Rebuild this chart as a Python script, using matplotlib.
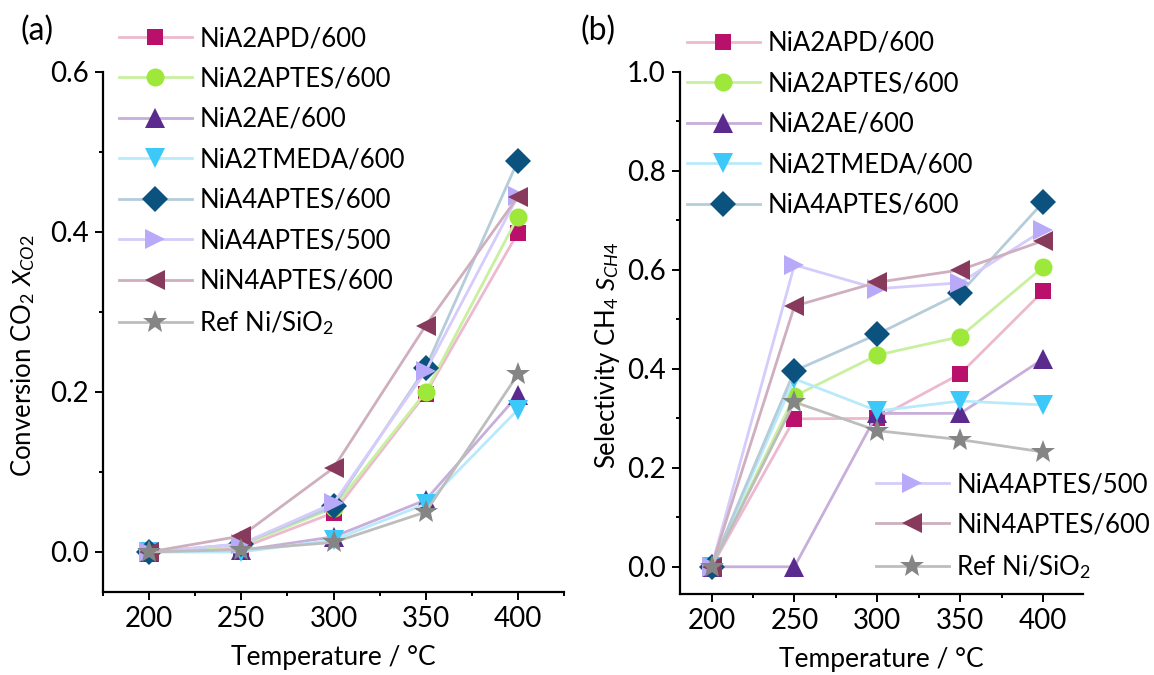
import matplotlib
matplotlib.use("Agg")
import matplotlib.pyplot as plt
from matplotlib.ticker import MultipleLocator, FormatStrFormatter

plt.rcParams['font.family'] = ['Lato', 'DejaVu Sans']
plt.rcParams['mathtext.fontset'] = 'custom'
plt.rcParams['mathtext.rm'] = 'Lato'
plt.rcParams['mathtext.it'] = 'Lato:italic'

temperature = [200, 250, 300, 350, 400]

samples = ["NiA2APD/600", "NiA2APTES/600", "NiA2AE/600", "NiA2TMEDA/600",
           "NiA4APTES/600", "NiA4APTES/500", "NiN4APTES/600", r"Ref Ni/SiO$_\mathregular{2}$"]

# CO2 conversion X_CO2
conv_apd = [0.0, 0.005, 0.049, 0.198, 0.399]
conv_a2aptes = [0.0, 0.008, 0.055, 0.200, 0.419]
conv_ae = [0.0, 0.002, 0.019, 0.065, 0.196]
conv_tmeda = [0.0, 0.000, 0.015, 0.060, 0.178]
conv_a4aptes600 = [0.0, 0.010, 0.057, 0.230, 0.489]
conv_a4aptes500 = [0.0, 0.010, 0.061, 0.226, 0.445]
conv_n4aptes = [0.0, 0.020, 0.105, 0.283, 0.444]
conv_ref = [0.0, 0.003, 0.012, 0.050, 0.222]

# CH4 selectivity S_CH4
sel_apd = [0.0, 0.299, 0.300, 0.390, 0.557]
sel_a2aptes = [0.0, 0.345, 0.428, 0.465, 0.606]
sel_ae = [0.0, 0.0, 0.310, 0.310, 0.420]
sel_tmeda = [0.0, 0.380, 0.315, 0.335, 0.327]
sel_a4aptes600 = [0.0, 0.396, 0.470, 0.553, 0.737]
sel_a4aptes500 = [0.0, 0.610, 0.562, 0.574, 0.680]
sel_n4aptes = [0.0, 0.527, 0.575, 0.600, 0.659]
sel_ref = [0.0, 0.333, 0.275, 0.257, 0.232]

conversion = [conv_apd, conv_a2aptes, conv_ae, conv_tmeda,
              conv_a4aptes600, conv_a4aptes500, conv_n4aptes, conv_ref]
selectivity = [sel_apd, sel_a2aptes, sel_ae, sel_tmeda,
               sel_a4aptes600, sel_a4aptes500, sel_n4aptes, sel_ref]

marker_colors = ["#B8106B", "#9EE83C", "#5A2A8E", "#3CC8F8",
                 "#0B527F", "#B9A9F9", "#873A5C", "#858585"]
line_colors = ["#EDB9CF", "#C8F09E", "#C8AEDA", "#B9EAFB",
               "#B5CCDA", "#D6CCFB", "#CFAFBF", "#BDBDBD"]
markers = ["s", "o", "^", "v", "D", ">", "<", "*"]
msizes = [11.5, 13, 14, 14, 13, 14, 14, 18]

W, H = 1154, 675
fig = plt.figure(figsize=(W / 100, H / 100), dpi=100)
ax_a = fig.add_axes([103 / W, 1 - 592 / H, (564 - 103) / W, (592 - 72) / H])
ax_b = fig.add_axes([680 / W, 1 - 594 / H, (1083 - 680) / W, (594 - 72) / H])

handles_a, handles_b = [], []
for i in range(len(samples)):
    style = dict(color=line_colors[i], lw=2.0, marker=markers[i], ms=msizes[i],
                 mfc=marker_colors[i], mec=marker_colors[i], mew=0, label=samples[i])
    h, = ax_a.plot(temperature, conversion[i], **style)
    handles_a.append(h)
    h, = ax_b.plot(temperature, selectivity[i], **style)
    handles_b.append(h)

ax_a.set_xlim(175, 425)
ax_a.set_ylim(-0.05, 0.6)
ax_b.set_xlim(181, 424)
ax_b.set_ylim(-0.055, 1.0)

for ax in (ax_a, ax_b):
    ax.set_xticks(temperature)
    ax.xaxis.set_minor_locator(MultipleLocator(25))
    ax.yaxis.set_major_locator(MultipleLocator(0.2))
    ax.yaxis.set_minor_locator(MultipleLocator(0.1))
    ax.yaxis.set_major_formatter(FormatStrFormatter("%.1f"))
    for s in ("top", "right"):
        ax.spines[s].set_visible(False)
    for s in ("left", "bottom"):
        ax.spines[s].set_linewidth(1.6)
    ax.tick_params(which="major", length=5.8, width=1.4, labelsize=20, pad=4.5)
    ax.tick_params(which="minor", length=3, width=1.4)
    ax.set_xlabel("Temperature / °C", fontsize=19, labelpad=9)

ax_a.set_ylabel(r"Conversion CO$_\mathregular{2}$ $X_{\mathit{CO2}}$", fontsize=18.5)
ax_b.set_ylabel(r"Selectivity CH$_\mathregular{4}$ $S_{\mathit{CH4}}$", fontsize=18.5)
ax_a.yaxis.set_label_coords((37 - 103) / 461, (592 - 356) / 520)
ax_b.yaxis.set_label_coords((622 - 680) / 403, (594 - 355) / 522)

leg_kw = dict(frameon=False, fontsize=18.5, handlelength=2.84, handletextpad=0.28,
              labelspacing=0.60, borderaxespad=0, borderpad=0,
              loc="upper left", bbox_transform=fig.transFigure)
fig.legend(handles=handles_a, bbox_to_anchor=(119 / W, 1 - 26 / H), **leg_kw)
fig.legend(handles=handles_b[:5], bbox_to_anchor=(687 / W, 1 - 31 / H), **leg_kw)
fig.legend(handles=handles_b[5:], bbox_to_anchor=(876 / W, 1 - 472 / H), **leg_kw)

fig.text(20 / W, 1 - 31 / H, "(a)", fontsize=23, va="center")
fig.text(580 / W, 1 - 31 / H, "(b)", fontsize=23, va="center")

fig.savefig("out.png", dpi=100)
